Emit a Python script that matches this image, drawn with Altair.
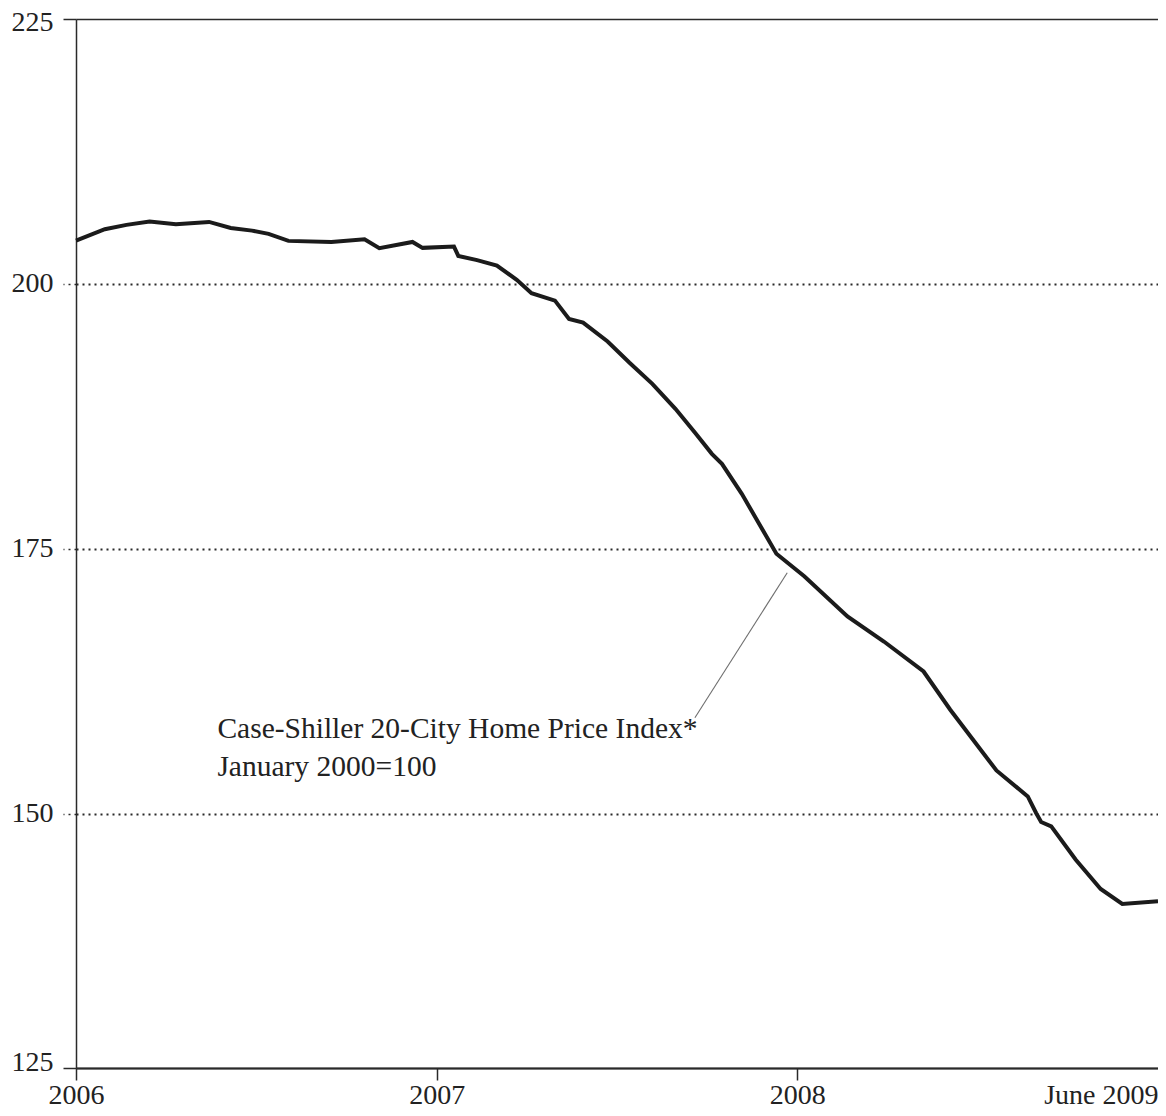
import altair as alt
import pandas as pd

# ---- data ----
# x: position in chart units (0 = 2006, 1 = 2007, 2 = 2008, 3 = June 2009)
t_pos = [0.000, 0.080, 0.140, 0.204, 0.277, 0.369, 0.429, 0.488, 0.534, 0.589,
         0.708, 0.800, 0.841, 0.933, 0.961, 1.048, 1.060, 1.112, 1.167, 1.222,
         1.263, 1.328, 1.367, 1.406, 1.474, 1.534, 1.598, 1.662, 1.717, 1.763,
         1.791, 1.846, 1.942, 2.020, 2.139, 2.240, 2.350, 2.424, 2.552, 2.639,
         2.662, 2.676, 2.704, 2.772, 2.841, 2.901, 3.000]
index_vals = [204.08, 205.16, 205.57, 205.88, 205.63, 205.85, 205.28, 205.03, 204.72, 204.06,
              203.96, 204.22, 203.37, 203.96, 203.40, 203.52, 202.64, 202.24, 201.73, 200.38,
              199.12, 198.42, 196.70, 196.35, 194.56, 192.58, 190.57, 188.21, 185.92, 183.96,
              183.02, 180.19, 174.53, 172.39, 168.61, 166.25, 163.42, 159.81, 154.08, 151.63,
              150.07, 149.22, 148.80, 145.66, 142.90, 141.48, 141.73]

x_tick_vals = [0, 1, 2, 3]
x_tick_labels = ["2006", "2007", "2008", "June 2009"]

y_tick_vals = [126, 150, 175, 200, 225]
y_tick_labels = ["125", "150", "175", "200", "225"]

ann_lines = ["Case-Shiller 20-City Home Price Index*", "January 2000=100"]
ann_x = [0.392, 0.392]
ann_y = [157.17, 153.58]

leader_x = [1.716]
leader_y = [159.06]
leader_x2 = [1.972]
leader_y2 = [172.74]

# ---- tables ----
df = pd.DataFrame({"t": t_pos, "v": index_vals})
ann = pd.DataFrame({"t": ann_x, "v": ann_y, "txt": ann_lines})
lead = pd.DataFrame({"t": leader_x, "v": leader_y, "t2": leader_x2, "v2": leader_y2})

x_expr = " : ".join(
    [f"datum.value == {v} ? '{l}'" for v, l in zip(x_tick_vals, x_tick_labels)]
) + " : ''"
y_expr = " : ".join(
    [f"datum.value == {v} ? '{l}'" for v, l in zip(y_tick_vals, y_tick_labels)]
) + " : datum.label"

FONT = "Liberation Serif"
AX = "#2a2a2a"

x_scale = alt.Scale(domain=[0, 3], nice=False, zero=False)
y_scale = alt.Scale(domain=[126, 225], nice=False, zero=False)

x_axis = alt.Axis(
    values=x_tick_vals, labelExpr=x_expr, title=None, grid=False,
    domainColor=AX, domainWidth=1.5,
    tickColor={"condition": {"test": "datum.value == 3", "value": "transparent"}, "value": AX},
    tickWidth=1.5, tickSize=12,
    labelFont=FONT, labelFontSize=28, labelColor="#222", labelPadding=1,
    labelFlush=False, labelOverlap=False,
    labelAlign={"condition": {"test": "datum.value == 3", "value": "right"}, "value": "center"},
    labelBaseline="top",
)
y_axis = alt.Axis(
    values=y_tick_vals, labelExpr=y_expr, title=None,
    domainColor=AX, domainWidth=1.5, tickColor=AX, tickWidth=1.5, tickSize=13,
    tickDash={"condition": {"test": "datum.value == 126 || datum.value == 225", "value": []}, "value": [2, 4]},
    grid=True, gridColor=AX,
    gridDash={"condition": {"test": "datum.value == 225 || datum.value == 126", "value": []}, "value": [2, 4]},
    gridWidth={"condition": {"test": "datum.value == 225", "value": 1.5}, "value": 1.9},
    labelFont=FONT, labelFontSize=28, labelColor="#222", labelPadding=10,
    labelBaseline="middle",
    labelOffset={"condition": [
        {"test": "datum.value == 126", "value": -6},
        {"test": "datum.value == 225", "value": 3},
    ], "value": 0},
)

line = alt.Chart(df).mark_line(color="#1b1b1b", strokeWidth=4).encode(
    x=alt.X("t:Q", scale=x_scale, axis=x_axis),
    y=alt.Y("v:Q", scale=y_scale, axis=y_axis),
)

leader = alt.Chart(lead).mark_rule(color="#6e6e6e", strokeWidth=1.1).encode(
    x=alt.X("t:Q", scale=x_scale),
    y=alt.Y("v:Q", scale=y_scale),
    x2="t2:Q",
    y2="v2:Q",
)

text = alt.Chart(ann).mark_text(
    align="left", baseline="alphabetic", font=FONT, fontSize=29.5, color="#222"
).encode(
    x=alt.X("t:Q", scale=x_scale),
    y=alt.Y("v:Q", scale=y_scale),
    text="txt:N",
)

chart = alt.layer(line, leader, text).properties(
    width=1082, height=1049,
    autosize=alt.AutoSizeParams(type="none"),
    padding={"left": 68, "top": 11, "right": 0, "bottom": 40},
).configure_view(strokeWidth=0).configure(background="white")

chart.save("out.html", embed_options={"renderer": "svg", "actions": False})
